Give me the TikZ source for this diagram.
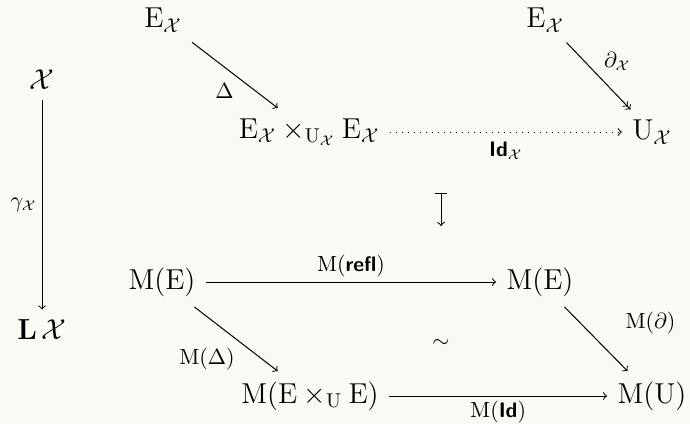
\documentclass[tikz,border=0pt]{standalone}
\definecolor{bg}{RGB}{249,250,243}
\newcommand{\cX}{\mathcal{X}}
\newcommand{\sfb}[1]{\textsf{\bfseries #1}}
\begin{document}
\begin{tikzpicture}[x=0.5pt,y=-0.5pt,
  obj/.style={inner sep=5pt, font=\fontsize{14.5}{17}\selectfont},
  lbl/.style={font=\fontsize{10.5}{12}\selectfont, inner sep=2.5pt},
  arr/.style={->, line width=0.5pt},
  every path/.style={line width=0.5pt}]
\fill[bg] (0,0) rectangle (690,424);
\useasboundingbox (0,0) rectangle (690,424);
\node[obj] (Ea) at (163,20) {$\mathrm{E}_{\cX}$};
\node[obj] (X) at (42,80) {$\cX$};
\node[obj] (P) at (309,132) {$\mathrm{E}_{\cX}\times_{\mathrm{U}_{\cX}}\mathrm{E}_{\cX}$};
\node[obj] (U) at (652,132) {$\mathrm{U}_{\cX}$};
\node[obj] (Eb) at (545,20) {$\mathrm{E}_{\cX}$};
\node[obj] (L) at (42,330) {$\textbf{L}\,\cX$};
\node[obj] (MEa) at (162,282) {$\mathrm{M}(\mathrm{E})$};
\node[obj] (MEb) at (540,282) {$\mathrm{M}(\mathrm{E})$};
\node[obj] (MP) at (310,396) {$\mathrm{M}(\mathrm{E}\times_{\mathrm{U}}\mathrm{E})$};
\node[obj] (MU) at (652,396) {$\mathrm{M}(\mathrm{U})$};
\node[lbl] (sim) at (441,343) {$\sim$};
\coordinate (m1) at (441,193);
\coordinate (m2) at (441,226);

\draw[arr] (X) -- node[lbl,left] {$\gamma_{\cX}$} (L);
\draw[arr] (Ea) -- node[lbl,below left,pos=0.55] {$\Delta$} (P);
\draw[->>] (Eb) -- node[lbl,above right,pos=0.5] {$\partial_{\cX}$} (U);
\draw[->, dash pattern=on 0.5pt off 2.5pt] (P) -- node[lbl,below,yshift=-2pt] {$\sfb{Id}_{\cX}$} (U);
\draw[|->] (m1) -- (m2);
\draw[arr] (MEa) -- node[lbl,above] {$\mathrm{M}(\sfb{refl})$} (MEb);
\draw[arr] (MEa) -- node[lbl,below left,pos=0.55] {$\mathrm{M}(\Delta)$} (MP);
\draw[arr] (MEb) -- node[lbl,above right,pos=0.5,xshift=12pt] {$\mathrm{M}(\partial)$} (MU);
\draw[arr] (MP) -- node[lbl,below] {$\mathrm{M}(\sfb{Id})$} (MU);
\end{tikzpicture}
\end{document}
